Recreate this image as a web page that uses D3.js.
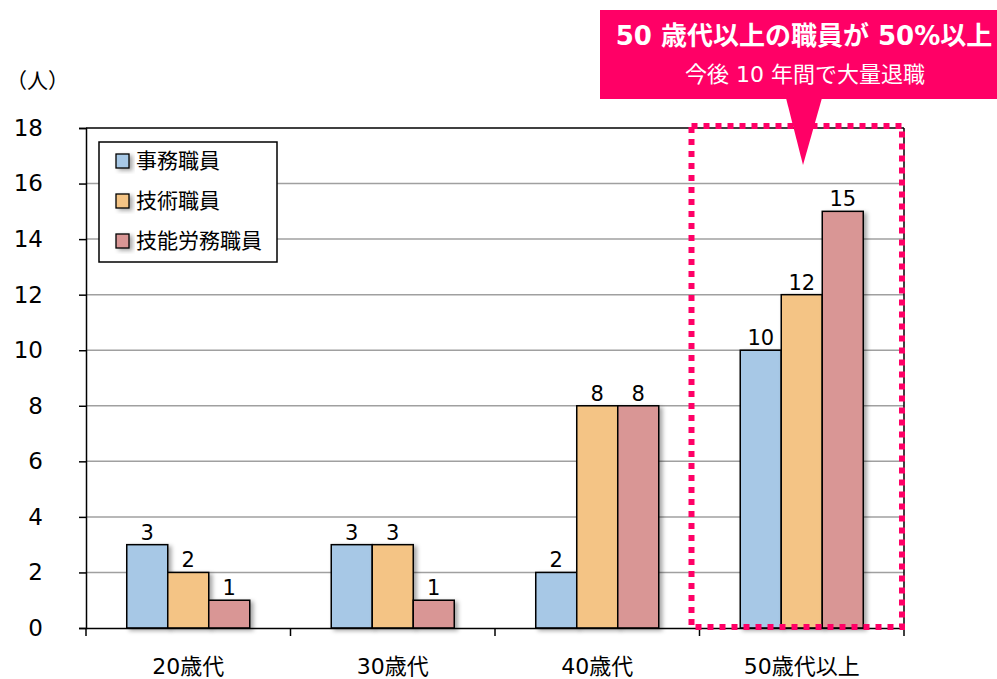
<!DOCTYPE html>
<html><head><meta charset="utf-8">
<script src="https://cdn.jsdelivr.net/npm/d3@7"></script>
<style>
body{margin:0;background:#fff;}
text{font-family:"DejaVu Sans","Noto Sans CJK JP",sans-serif;}
</style></head>
<body><svg id="c" width="997" height="679"></svg>
<script>
const categories = ["20歳代","30歳代","40歳代","50歳代以上"];
const seriesNames = ["事務職員","技術職員","技能労務職員"];
const office = [3,3,2,10];
const technical = [2,3,8,12];
const labor = [1,1,8,15];
const yTicks = [0,2,4,6,8,10,12,14,16,18];
const colors = ["#A7C8E6","#F4C485","#D99695"];
const calloutTitle = "50 歳代以上の職員が 50%以上";
const calloutSub = "今後 10 年間で大量退職";
const unitLabel = "（人）";

const series = [office, technical, labor];
const svg = d3.select("#c");
const L=86,R=904,T=128,B=628;
const x = d3.scaleBand().domain(categories).range([L,R]);
const y = d3.scaleLinear().domain([0,18]).range([B,T]);
const barW = 41;
const FF = "DejaVu Sans, Noto Sans CJK JP, sans-serif";

const defs = svg.append("defs");
const f = defs.append("filter").attr("id","sh").attr("x","-20%").attr("y","-20%").attr("width","160%").attr("height","160%");
f.append("feDropShadow").attr("dx",3).attr("dy",2).attr("stdDeviation",2).attr("flood-color","#000").attr("flood-opacity",0.35);

// gridlines
svg.append("g").selectAll("line").data(yTicks.filter(d=>d>0&&d<18)).join("line")
 .attr("x1",L).attr("x2",R).attr("y1",d=>y(d)).attr("y2",d=>y(d))
 .attr("stroke","#A0A0A0").attr("stroke-width",1.5);

// bars
categories.forEach((c,i)=>{
  const g0 = x(c) + (x.bandwidth()-barW*3)/2;
  series.forEach((s,j)=>{
    svg.append("rect").attr("x",g0+j*barW).attr("y",y(s[i])).attr("width",barW).attr("height",B-y(s[i]))
      .attr("fill",colors[j]).attr("stroke","#000").attr("stroke-width",1.5).attr("filter","url(#sh)");
    svg.append("text").attr("x",g0+j*barW+barW/2).attr("y",y(s[i])-5).attr("text-anchor","middle")
      .attr("font-size",21).attr("fill","#000").text(s[i]);
  });
});

// frame top/right
svg.append("line").attr("x1",L).attr("x2",R).attr("y1",T).attr("y2",T).attr("stroke","#000").attr("stroke-width",1.5);
svg.append("line").attr("x1",R).attr("x2",R).attr("y1",T).attr("y2",B).attr("stroke","#000").attr("stroke-width",1.5);

// y axis
const ya = svg.append("g").attr("transform",`translate(${L},0)`)
 .call(d3.axisLeft(y).tickValues(yTicks).tickSize(7).tickPadding(36));
ya.select(".domain").attr("stroke","#000").attr("stroke-width",1.5);
ya.selectAll(".tick line").attr("stroke","#000").attr("stroke-width",1.5);
ya.selectAll("text").attr("font-size",23).attr("fill","#000").attr("font-family",FF);

// x axis
const xa = svg.append("g").attr("transform",`translate(0,${B})`)
 .call(d3.axisBottom(x).tickSize(0).tickPadding(30));
xa.select(".domain").attr("stroke","#000").attr("stroke-width",1.5);
xa.selectAll("text").attr("font-size",22).attr("fill","#000").attr("font-family",FF);
svg.append("g").selectAll("line").data([L, ...categories.map(c=>x(c)+x.bandwidth())]).join("line")
 .attr("x1",d=>d).attr("x2",d=>d).attr("y1",B).attr("y2",B+8).attr("stroke","#000").attr("stroke-width",1.5);

svg.append("text").attr("x",6).attr("y",88).attr("font-size",21).attr("fill","#000").text(unitLabel);

// legend
const lg = svg.append("g");
lg.append("rect").attr("x",99).attr("y",142).attr("width",178).attr("height",120).attr("fill","#fff").attr("stroke","#000").attr("stroke-width",1.5);
seriesNames.forEach((n,j)=>{
  const cy = 161 + j*40;
  lg.append("rect").attr("x",116).attr("y",cy-7).attr("width",13).attr("height",14).attr("fill",colors[j]).attr("stroke","#000").attr("stroke-width",1.3).attr("filter","url(#sh)");
  lg.append("text").attr("x",136).attr("y",cy+7).attr("font-size",21).attr("fill","#000").text(n);
});

// dotted highlight
const hx0 = x(categories[3]) - 8;
svg.append("rect").attr("x",hx0).attr("y",126).attr("width",R-hx0-2).attr("height",B-126-1)
 .attr("fill","none").attr("stroke","#FF0066").attr("stroke-width",6).attr("stroke-dasharray","6 6");

// callout
const pink = "#FF0066";
svg.append("rect").attr("x",600).attr("y",10).attr("width",420).attr("height",89).attr("fill",pink);
svg.append("path").attr("d","M786,98 L822,98 L803,165 Z").attr("fill",pink);
svg.append("text").attr("x",804).attr("y",45).attr("text-anchor","middle").attr("font-size",26).attr("font-weight","bold").attr("fill","#fff").text(calloutTitle);
svg.append("text").attr("x",805).attr("y",82).attr("text-anchor","middle").attr("font-size",22).attr("fill","#fff").text(calloutSub);
</script></body></html>
